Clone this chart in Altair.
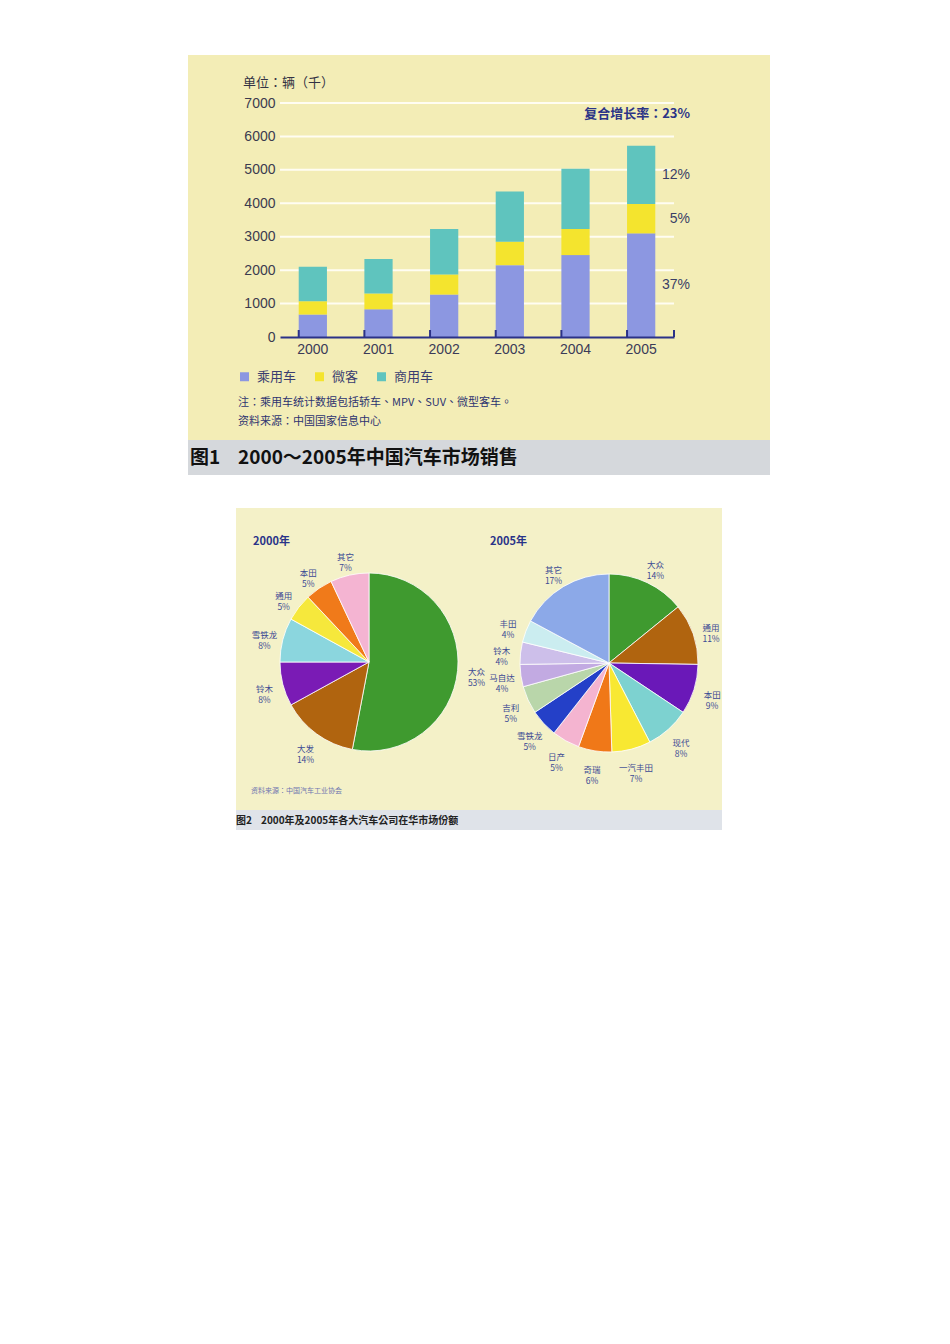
import altair as alt
import pandas as pd

# ---------------- data ----------------
years = ["2000", "2001", "2002", "2003", "2004", "2005"]
passenger = [670, 830, 1270, 2150, 2450, 3100]
mini = [400, 470, 600, 700, 780, 880]
commercial = [1030, 1030, 1360, 1500, 1800, 1740]
series = ["乘用车", "微客", "商用车"]
series_colors = ["#8C97E1", "#F4E42E", "#5FC4BE"]
growth = ["37%", "5%", "12%"]
y_ticks = [0, 1000, 2000, 3000, 4000, 5000, 6000, 7000]
grid_vals = [1000, 2000, 3000, 4000, 5000, 6000, 7000]

pie00_names = ["大众", "大发", "铃木", "雪铁龙", "通用", "本田", "其它"]
pie00_pct = [53, 14, 8, 8, 5, 5, 7]
pie00_colors = ["#3F9A2F", "#B0640F", "#7A1BB5", "#8BD6DE", "#F6E83C", "#F07A1A", "#F4B4D2"]

pie05_names = ["大众", "通用", "本田", "现代", "一汽丰田", "奇瑞", "日产",
               "雪铁龙", "吉利", "马自达", "铃木", "丰田", "其它"]
pie05_pct = [14, 11, 9, 8, 7, 6, 5, 5, 5, 4, 4, 4, 17]
pie05_colors = ["#3F9A2F", "#B0640F", "#6A18B8", "#7DD2D0", "#F8E832", "#F07818",
                "#F4B4D0", "#2440C8", "#B9D6AA", "#C2AAE2", "#CDBFEA", "#CBEDF0", "#8CA9E8"]

# ---------------- tables ----------------
rows = []
for i, y in enumerate(years):
    for j, (s, vals) in enumerate(zip(series, [passenger, mini, commercial])):
        rows.append({"year": y, "series": s, "idx": j, "value": vals[i]})
bar_df = pd.DataFrame(rows)
last_df = pd.DataFrame({"series": series, "idx": [0, 1, 2],
                        "value": [passenger[-1], mini[-1], commercial[-1]],
                        "rate": growth})
grid_df = pd.DataFrame({"v": grid_vals})
year_df = pd.DataFrame({"year": years})
one = pd.DataFrame({"k": [0]})

CJK = "Noto Sans CJK TC"
LAT = "Liberation Sans"
NAVY = "#2B3288"
W, H = 394, 234

y_axis = alt.Axis(values=y_ticks, format="d", labelOverlap=False, grid=False,
                  domain=False, ticks=False, tickSize=0, labelPadding=5,
                  labelFontSize=14, labelFont=LAT, labelColor="#3B3B4F", zindex=1)


def rect(x, x2, y, y2, color):
    return alt.Chart(one).mark_rect(color=color).encode(
        x=alt.value(x), x2=alt.value(x2), y=alt.value(y), y2=alt.value(y2))


def label(txt, x, y, size, color, align="left", weight="normal", font=CJK):
    return alt.Chart(one).mark_text(
        text=txt, align=align, baseline="middle", fontSize=size, color=color,
        fontWeight=weight, font=font).encode(x=alt.value(x), y=alt.value(y))


# backgrounds
bg_top = rect(-92, 490, -48, 337, "#F3EDB6")
cap_top = rect(-92, 490, 337, 372, "#D5D8DC")
bg_pie = rect(-44, 442, 405, 707, "#F4F1C8")
cap_pie = rect(-44, 442, 707, 727, "#DFE3E9")

grid = alt.Chart(grid_df).mark_rule(color="#FFFDF2", strokeWidth=2).encode(
    y=alt.Y("v:Q", title=None, axis=y_axis), x=alt.value(0), x2=alt.value(W))

bars = alt.Chart(bar_df).mark_bar().encode(
    x=alt.X("year:N", title=None,
            scale=alt.Scale(paddingInner=0.57, paddingOuter=0.285),
            axis=alt.Axis(labelAngle=0, ticks=False, tickSize=0, domain=True,
                          domainColor=NAVY, domainWidth=2, labelPadding=5,
                          labelFontSize=14, labelFont=LAT, labelColor="#3B3B58",
                          zindex=1, grid=False)),
    y=alt.Y("value:Q", title=None, stack="zero",
            scale=alt.Scale(domain=[0, 7000], nice=False), axis=y_axis),
    color=alt.Color("series:N", scale=alt.Scale(domain=series, range=series_colors),
                    legend=alt.Legend(title=None, orient="none", legendX=-42, legendY=267,
                                      direction="horizontal", symbolType="square",
                                      symbolSize=81, symbolStrokeWidth=0,
                                      labelFontSize=13, labelFont=CJK,
                                      labelColor="#3A3D70", labelOffset=6,
                                      columnPadding=16, padding=0, zindex=1)),
    order=alt.Order("idx:Q"),
)

ticks = alt.Chart(year_df).mark_rule(color=NAVY, strokeWidth=2).encode(
    x=alt.X("year:N", bandPosition=0, title=None), y=alt.value(H), y2=alt.value(H - 7))
end_tick = alt.Chart(one).mark_rule(color=NAVY, strokeWidth=2).encode(
    x=alt.value(W), y=alt.value(H), y2=alt.value(H - 7))

rates = alt.Chart(last_df).transform_window(
    cum="sum(value)", sort=[alt.SortField("idx")]
).transform_calculate(mid="datum.cum - datum.value / 2").mark_text(
    align="right", baseline="middle", fontSize=14, font=LAT, color="#3A3F66"
).encode(y=alt.Y("mid:Q", title=None, axis=y_axis), x=alt.value(410), text="rate:N")


def pie(names, pct, colors, cx, cy):
    df = pd.DataFrame({"name": names, "pct": pct, "color": colors,
                       "idx": list(range(len(names)))})
    df["label"] = df["name"] + "\n" + df["pct"].astype(str) + "%"
    base = alt.Chart(df).encode(
        theta=alt.Theta("pct:Q", stack="normalize"),
        order=alt.Order("idx:Q"),
        x=alt.value(cx), y=alt.value(cy))
    arcs = base.mark_arc(radius=89, stroke="white", strokeWidth=0.8).encode(
        color=alt.Color("color:N", scale=None))
    texts = base.mark_text(radius=108, lineBreak="\n", fontSize=8.5, lineHeight=11,
                           font=CJK, color="#3C4A94", align="center",
                           baseline="middle").encode(text="label:N")
    return alt.layer(arcs, texts)


texts = [
    label("单位：辆（千）", -37, -20, 13, "#333344"),
    label("复合增长率：23%", 410, 11, 13, "#2B3487", align="right", weight="bold"),
    label("注：乘用车统计数据包括轿车、MPV、SUV、微型客车。", -42, 300, 11, "#2E3470"),
    label("资料来源：中国国家信息中心", -42, 318.5, 11, "#2E3470"),
    label("图1", -90, 355, 19, "#111111", weight="bold"),
    label("2000～2005年中国汽车市场销售", -42, 355, 19, "#111111", weight="bold"),
    label("2000年", -27, 439, 11, "#2A3488", weight="bold"),
    label("2005年", 210, 439, 11, "#2A3488", weight="bold"),
    label("资料来源：中国汽车工业协会", -29, 688, 7, "#7077B0"),
    label("图2", -44, 718, 10, "#222222", weight="bold"),
    label("2000年及2005年各大汽车公司在华市场份额", -19, 718, 10, "#222222", weight="bold"),
]

chart = alt.layer(
    bg_top, cap_top, bg_pie, cap_pie, grid, bars, ticks, end_tick, rates,
    *texts,
    pie(pie00_names, pie00_pct, pie00_colors, 89, 559),
    pie(pie05_names, pie05_pct, pie05_colors, 329, 560),
).properties(
    width=W, height=H,
    autosize=alt.AutoSizeParams(type="none"),
    padding={"left": 272, "top": 95, "right": 250, "bottom": 500},
    background="white",
).configure_view(stroke=None)

chart.save("out.html", embed_options={"renderer": "svg", "actions": False})
